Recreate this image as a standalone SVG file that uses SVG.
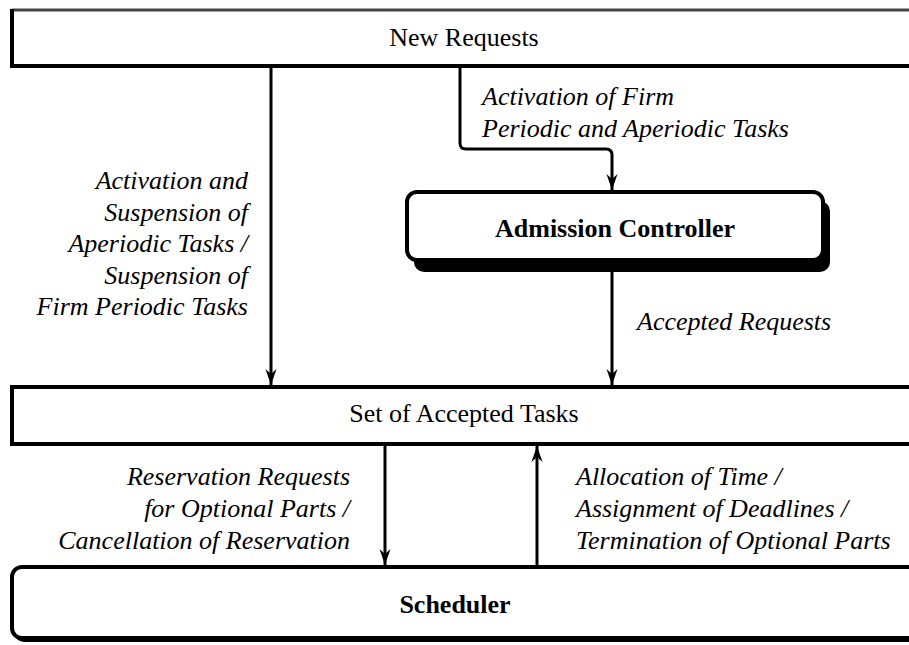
<svg xmlns="http://www.w3.org/2000/svg" width="909" height="645" viewBox="0 0 909 645">
  <style>
    .box { fill: #fff; stroke: #000; stroke-width: 4; }
    .shadow { fill: #000; }
    .edge { fill: none; stroke: #000; stroke-width: 4; }
    text { font-family: 'Liberation Serif', 'Times New Roman', Times, serif; font-size: 26px; fill: #000; }
    .title { text-anchor: middle; }
    .bold { font-weight: bold; }
    .lbl { font-style: italic; }
    .end { text-anchor: end; }
    .wire { fill: none; stroke: #000; stroke-width: 3; }
  </style>
  <defs>
    <marker id="arrow" markerWidth="16" markerHeight="12" viewBox="-16 -6 16 12" refX="0" refY="0" orient="auto" markerUnits="userSpaceOnUse">
      <path d="M0,0 L-16,-5.5 L-11,0 L-16,5.5 Z" fill="#000"/>
    </marker>
  </defs>
  <rect width="909" height="645" fill="#fff"/>

  <!-- request source (top edge drawn lighter) -->
  <g id="new-requests">
    <rect x="12" y="10" width="910" height="56" fill="#fff"/>
    <path d="M12,10 H922" fill="none" stroke="#444" stroke-width="3"/>
    <path class="edge" d="M12,9 V66 H922"/>
    <text class="title" x="464" y="46">New Requests</text>
  </g>

  <!-- admission controller -->
  <g id="admission-controller">
    <rect class="shadow" x="414" y="201" width="416" height="71" rx="10"/>
    <rect class="box" x="407" y="192" width="416" height="68" rx="10"/>
    <text class="title bold" x="615" y="237">Admission Controller</text>
  </g>

  <!-- accepted task set -->
  <g id="accepted-tasks">
    <rect class="box" x="12" y="387" width="910" height="57"/>
    <text class="title" x="464" y="422">Set of Accepted Tasks</text>
  </g>

  <!-- scheduler -->
  <g id="scheduler">
    <rect class="shadow" x="14" y="572" width="910" height="70" rx="10"/>
    <rect class="box" x="12" y="567" width="910" height="71" rx="10"/>
    <text class="title bold" x="455" y="613">Scheduler</text>
  </g>

  <!-- connectors -->
  <g id="connectors">
    <path class="wire" d="M271,68 V385" marker-end="url(#arrow)"/>
    <path class="wire" d="M460,68 V143 Q460,149 466,149 H606 Q612,149 612,155 V190" marker-end="url(#arrow)"/>
    <path class="wire" d="M612,272 V385" marker-end="url(#arrow)"/>
    <path class="wire" d="M385,446 V565" marker-end="url(#arrow)"/>
    <path class="wire" d="M537,565 V446" marker-end="url(#arrow)"/>
  </g>

  <!-- connector labels -->
  <g id="labels">
    <text class="lbl" x="482" y="105">Activation of Firm</text>
    <text class="lbl" x="482" y="137">Periodic and Aperiodic Tasks</text>

    <text class="lbl end" x="248" y="189">Activation and</text>
    <text class="lbl end" x="248" y="221">Suspension of</text>
    <text class="lbl end" x="248" y="252">Aperiodic Tasks /</text>
    <text class="lbl end" x="248" y="284">Suspension of</text>
    <text class="lbl end" x="248" y="315">Firm Periodic Tasks</text>

    <text class="lbl" x="637" y="330">Accepted Requests</text>

    <text class="lbl end" x="350" y="485">Reservation Requests</text>
    <text class="lbl end" x="350" y="517">for Optional Parts /</text>
    <text class="lbl end" x="350" y="549">Cancellation of Reservation</text>

    <text class="lbl" x="576" y="485">Allocation of Time /</text>
    <text class="lbl" x="576" y="517">Assignment of Deadlines /</text>
    <text class="lbl" x="576" y="549">Termination of Optional Parts</text>
  </g>
</svg>
